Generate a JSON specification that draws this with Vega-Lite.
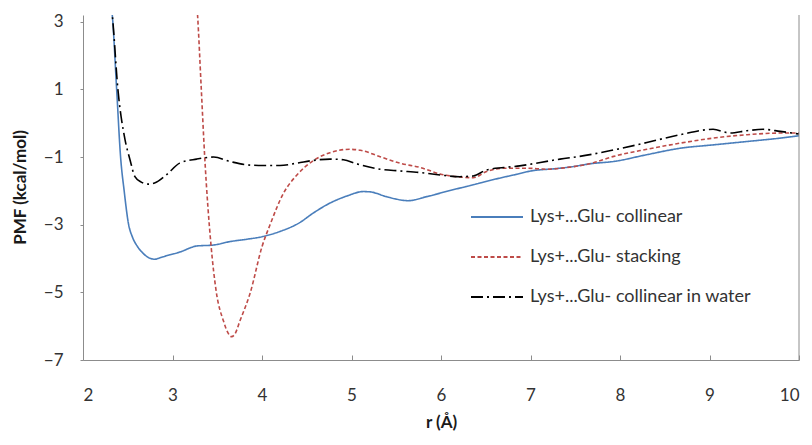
{
  "$schema": "https://vega.github.io/schema/vega-lite/v6.json",
  "autosize": "none",
  "width": 716,
  "height": 345,
  "padding": {"left": 83, "top": 15, "right": 13, "bottom": 85},
  "background": "white",
  "config": {
    "view": {"stroke": null},
    "font": "Lato",
    "axis": {"grid": false, "domainColor": "#8c8c8c", "tickColor": "#8c8c8c", "labelColor": "#333333", "titleColor": "#1a1a1a", "labelFont": "Lato", "titleFont": "Lato", "labelFontSize": 17, "titleFontSize": 17, "titleFontWeight": "bold"}
  },
  "layer": [
    {
      "data": {"values": [
        {"r": 2.31, "pmf": 3.6, "s": "Lys+...Glu- collinear"},
        {"r": 2.327, "pmf": 3.2, "s": "Lys+...Glu- collinear"},
        {"r": 2.376, "pmf": 1.0, "s": "Lys+...Glu- collinear"},
        {"r": 2.42, "pmf": -1.0, "s": "Lys+...Glu- collinear"},
        {"r": 2.46, "pmf": -2.0, "s": "Lys+...Glu- collinear"},
        {"r": 2.51, "pmf": -3.0, "s": "Lys+...Glu- collinear"},
        {"r": 2.55, "pmf": -3.35, "s": "Lys+...Glu- collinear"},
        {"r": 2.61, "pmf": -3.65, "s": "Lys+...Glu- collinear"},
        {"r": 2.67, "pmf": -3.84, "s": "Lys+...Glu- collinear"},
        {"r": 2.73, "pmf": -3.97, "s": "Lys+...Glu- collinear"},
        {"r": 2.8, "pmf": -4.02, "s": "Lys+...Glu- collinear"},
        {"r": 2.88, "pmf": -3.96, "s": "Lys+...Glu- collinear"},
        {"r": 2.97, "pmf": -3.89, "s": "Lys+...Glu- collinear"},
        {"r": 3.08, "pmf": -3.81, "s": "Lys+...Glu- collinear"},
        {"r": 3.27, "pmf": -3.63, "s": "Lys+...Glu- collinear"},
        {"r": 3.46, "pmf": -3.6, "s": "Lys+...Glu- collinear"},
        {"r": 3.64, "pmf": -3.5, "s": "Lys+...Glu- collinear"},
        {"r": 3.83, "pmf": -3.43, "s": "Lys+...Glu- collinear"},
        {"r": 4.01, "pmf": -3.35, "s": "Lys+...Glu- collinear"},
        {"r": 4.2, "pmf": -3.2, "s": "Lys+...Glu- collinear"},
        {"r": 4.42, "pmf": -2.94, "s": "Lys+...Glu- collinear"},
        {"r": 4.57, "pmf": -2.66, "s": "Lys+...Glu- collinear"},
        {"r": 4.76, "pmf": -2.36, "s": "Lys+...Glu- collinear"},
        {"r": 4.95, "pmf": -2.15, "s": "Lys+...Glu- collinear"},
        {"r": 5.13, "pmf": -2.02, "s": "Lys+...Glu- collinear"},
        {"r": 5.21, "pmf": -2.03, "s": "Lys+...Glu- collinear"},
        {"r": 5.39, "pmf": -2.17, "s": "Lys+...Glu- collinear"},
        {"r": 5.635, "pmf": -2.29, "s": "Lys+...Glu- collinear"},
        {"r": 5.84, "pmf": -2.17, "s": "Lys+...Glu- collinear"},
        {"r": 6.1, "pmf": -1.99, "s": "Lys+...Glu- collinear"},
        {"r": 6.36, "pmf": -1.82, "s": "Lys+...Glu- collinear"},
        {"r": 6.58, "pmf": -1.67, "s": "Lys+...Glu- collinear"},
        {"r": 6.81, "pmf": -1.53, "s": "Lys+...Glu- collinear"},
        {"r": 7.03, "pmf": -1.4, "s": "Lys+...Glu- collinear"},
        {"r": 7.25, "pmf": -1.35, "s": "Lys+...Glu- collinear"},
        {"r": 7.48, "pmf": -1.28, "s": "Lys+...Glu- collinear"},
        {"r": 7.66, "pmf": -1.2, "s": "Lys+...Glu- collinear"},
        {"r": 7.93, "pmf": -1.13, "s": "Lys+...Glu- collinear"},
        {"r": 8.3, "pmf": -0.93, "s": "Lys+...Glu- collinear"},
        {"r": 8.67, "pmf": -0.74, "s": "Lys+...Glu- collinear"},
        {"r": 9.04, "pmf": -0.64, "s": "Lys+...Glu- collinear"},
        {"r": 9.42, "pmf": -0.54, "s": "Lys+...Glu- collinear"},
        {"r": 9.79, "pmf": -0.44, "s": "Lys+...Glu- collinear"},
        {"r": 10.0, "pmf": -0.37, "s": "Lys+...Glu- collinear"},

        {"r": 3.27, "pmf": 3.6, "s": "Lys+...Glu- stacking"},
        {"r": 3.28, "pmf": 3.2, "s": "Lys+...Glu- stacking"},
        {"r": 3.32, "pmf": 1.1, "s": "Lys+...Glu- stacking"},
        {"r": 3.36, "pmf": -1.0, "s": "Lys+...Glu- stacking"},
        {"r": 3.43, "pmf": -3.6, "s": "Lys+...Glu- stacking"},
        {"r": 3.49, "pmf": -5.0, "s": "Lys+...Glu- stacking"},
        {"r": 3.57, "pmf": -5.85, "s": "Lys+...Glu- stacking"},
        {"r": 3.62, "pmf": -6.2, "s": "Lys+...Glu- stacking"},
        {"r": 3.66, "pmf": -6.31, "s": "Lys+...Glu- stacking"},
        {"r": 3.7, "pmf": -6.22, "s": "Lys+...Glu- stacking"},
        {"r": 3.75, "pmf": -5.87, "s": "Lys+...Glu- stacking"},
        {"r": 3.87, "pmf": -5.0, "s": "Lys+...Glu- stacking"},
        {"r": 4.0, "pmf": -3.65, "s": "Lys+...Glu- stacking"},
        {"r": 4.09, "pmf": -3.0, "s": "Lys+...Glu- stacking"},
        {"r": 4.24, "pmf": -2.07, "s": "Lys+...Glu- stacking"},
        {"r": 4.39, "pmf": -1.53, "s": "Lys+...Glu- stacking"},
        {"r": 4.57, "pmf": -1.11, "s": "Lys+...Glu- stacking"},
        {"r": 4.76, "pmf": -0.87, "s": "Lys+...Glu- stacking"},
        {"r": 4.98, "pmf": -0.77, "s": "Lys+...Glu- stacking"},
        {"r": 5.1, "pmf": -0.8, "s": "Lys+...Glu- stacking"},
        {"r": 5.32, "pmf": -0.99, "s": "Lys+...Glu- stacking"},
        {"r": 5.54, "pmf": -1.18, "s": "Lys+...Glu- stacking"},
        {"r": 5.77, "pmf": -1.31, "s": "Lys+...Glu- stacking"},
        {"r": 5.99, "pmf": -1.5, "s": "Lys+...Glu- stacking"},
        {"r": 6.21, "pmf": -1.59, "s": "Lys+...Glu- stacking"},
        {"r": 6.36, "pmf": -1.61, "s": "Lys+...Glu- stacking"},
        {"r": 6.51, "pmf": -1.43, "s": "Lys+...Glu- stacking"},
        {"r": 6.7, "pmf": -1.33, "s": "Lys+...Glu- stacking"},
        {"r": 6.96, "pmf": -1.33, "s": "Lys+...Glu- stacking"},
        {"r": 7.18, "pmf": -1.36, "s": "Lys+...Glu- stacking"},
        {"r": 7.4, "pmf": -1.31, "s": "Lys+...Glu- stacking"},
        {"r": 7.66, "pmf": -1.2, "s": "Lys+...Glu- stacking"},
        {"r": 7.93, "pmf": -0.98, "s": "Lys+...Glu- stacking"},
        {"r": 8.3, "pmf": -0.77, "s": "Lys+...Glu- stacking"},
        {"r": 8.67, "pmf": -0.59, "s": "Lys+...Glu- stacking"},
        {"r": 9.04, "pmf": -0.44, "s": "Lys+...Glu- stacking"},
        {"r": 9.42, "pmf": -0.34, "s": "Lys+...Glu- stacking"},
        {"r": 9.79, "pmf": -0.29, "s": "Lys+...Glu- stacking"},
        {"r": 10.0, "pmf": -0.29, "s": "Lys+...Glu- stacking"},

        {"r": 2.31, "pmf": 3.6, "s": "Lys+...Glu- collinear in water"},
        {"r": 2.327, "pmf": 3.2, "s": "Lys+...Glu- collinear in water"},
        {"r": 2.39, "pmf": 1.0, "s": "Lys+...Glu- collinear in water"},
        {"r": 2.47, "pmf": -0.49, "s": "Lys+...Glu- collinear in water"},
        {"r": 2.525, "pmf": -1.08, "s": "Lys+...Glu- collinear in water"},
        {"r": 2.58, "pmf": -1.58, "s": "Lys+...Glu- collinear in water"},
        {"r": 2.65, "pmf": -1.74, "s": "Lys+...Glu- collinear in water"},
        {"r": 2.73, "pmf": -1.8, "s": "Lys+...Glu- collinear in water"},
        {"r": 2.8, "pmf": -1.77, "s": "Lys+...Glu- collinear in water"},
        {"r": 2.93, "pmf": -1.53, "s": "Lys+...Glu- collinear in water"},
        {"r": 3.08, "pmf": -1.18, "s": "Lys+...Glu- collinear in water"},
        {"r": 3.27, "pmf": -1.06, "s": "Lys+...Glu- collinear in water"},
        {"r": 3.46, "pmf": -1.0, "s": "Lys+...Glu- collinear in water"},
        {"r": 3.64, "pmf": -1.13, "s": "Lys+...Glu- collinear in water"},
        {"r": 3.83, "pmf": -1.23, "s": "Lys+...Glu- collinear in water"},
        {"r": 4.01, "pmf": -1.25, "s": "Lys+...Glu- collinear in water"},
        {"r": 4.2, "pmf": -1.25, "s": "Lys+...Glu- collinear in water"},
        {"r": 4.39, "pmf": -1.18, "s": "Lys+...Glu- collinear in water"},
        {"r": 4.57, "pmf": -1.1, "s": "Lys+...Glu- collinear in water"},
        {"r": 4.76, "pmf": -1.06, "s": "Lys+...Glu- collinear in water"},
        {"r": 4.91, "pmf": -1.08, "s": "Lys+...Glu- collinear in water"},
        {"r": 5.06, "pmf": -1.2, "s": "Lys+...Glu- collinear in water"},
        {"r": 5.32, "pmf": -1.36, "s": "Lys+...Glu- collinear in water"},
        {"r": 5.54, "pmf": -1.41, "s": "Lys+...Glu- collinear in water"},
        {"r": 5.77, "pmf": -1.46, "s": "Lys+...Glu- collinear in water"},
        {"r": 5.99, "pmf": -1.53, "s": "Lys+...Glu- collinear in water"},
        {"r": 6.21, "pmf": -1.58, "s": "Lys+...Glu- collinear in water"},
        {"r": 6.36, "pmf": -1.56, "s": "Lys+...Glu- collinear in water"},
        {"r": 6.51, "pmf": -1.38, "s": "Lys+...Glu- collinear in water"},
        {"r": 6.7, "pmf": -1.31, "s": "Lys+...Glu- collinear in water"},
        {"r": 6.88, "pmf": -1.26, "s": "Lys+...Glu- collinear in water"},
        {"r": 7.11, "pmf": -1.16, "s": "Lys+...Glu- collinear in water"},
        {"r": 7.33, "pmf": -1.06, "s": "Lys+...Glu- collinear in water"},
        {"r": 7.55, "pmf": -0.98, "s": "Lys+...Glu- collinear in water"},
        {"r": 7.93, "pmf": -0.79, "s": "Lys+...Glu- collinear in water"},
        {"r": 8.3, "pmf": -0.57, "s": "Lys+...Glu- collinear in water"},
        {"r": 8.67, "pmf": -0.34, "s": "Lys+...Glu- collinear in water"},
        {"r": 9.04, "pmf": -0.18, "s": "Lys+...Glu- collinear in water"},
        {"r": 9.23, "pmf": -0.29, "s": "Lys+...Glu- collinear in water"},
        {"r": 9.42, "pmf": -0.22, "s": "Lys+...Glu- collinear in water"},
        {"r": 9.6, "pmf": -0.18, "s": "Lys+...Glu- collinear in water"},
        {"r": 9.79, "pmf": -0.24, "s": "Lys+...Glu- collinear in water"},
        {"r": 10.0, "pmf": -0.32, "s": "Lys+...Glu- collinear in water"}
      ]},
      "mark": {"type": "line", "interpolate": "monotone", "clip": true, "strokeWidth": 1.6},
      "encoding": {
        "x": {"field": "r", "type": "quantitative", "scale": {"domain": [2, 10], "nice": false, "zero": false},
          "axis": {"values": [2, 3, 4, 5, 6, 7, 8, 9, 10], "format": "d", "title": "r (Å)", "tickSize": -5, "labelPadding": 32, "titleX": 358, "titleY": 62, "titleBaseline": "middle", "titleAlign": "center"}},
        "y": {"field": "pmf", "type": "quantitative", "scale": {"domain": [-7, 3.2], "nice": false, "zero": false},
          "axis": {"values": [-7, -5, -3, -1, 1, 3], "format": "d", "title": "PMF (kcal/mol)", "tickSize": 3, "labelPadding": 17, "titleX": -63, "titleY": 172, "titleAngle": 270, "titleBaseline": "middle", "titleAlign": "center"}},
        "color": {"field": "s", "type": "nominal", "title": null,
          "scale": {"domain": ["Lys+...Glu- collinear", "Lys+...Glu- stacking", "Lys+...Glu- collinear in water"], "range": ["#4A7EBB", "#BE4B48", "#000000"]},
          "legend": {"orient": "none", "legendX": 387, "legendY": 175, "symbolType": "stroke", "symbolSize": 2704, "symbolStrokeWidth": 1.8, "labelFontSize": 18, "labelFont": "Lato", "labelColor": "#333333", "labelOffset": 6, "labelLimit": 400, "rowPadding": 4, "padding": 0}},
        "strokeDash": {"field": "s", "type": "nominal", "title": null,
          "scale": {"domain": ["Lys+...Glu- collinear", "Lys+...Glu- stacking", "Lys+...Glu- collinear in water"], "range": [[1, 0], [4, 2.5], [12, 4, 2, 4]]}}
      }
    },
    {
      "data": {"values": [{}]},
      "mark": {"type": "rule", "color": "#8c8c8c", "strokeWidth": 1},
      "encoding": {"x": {"datum": 10}}
    }
  ]
}
